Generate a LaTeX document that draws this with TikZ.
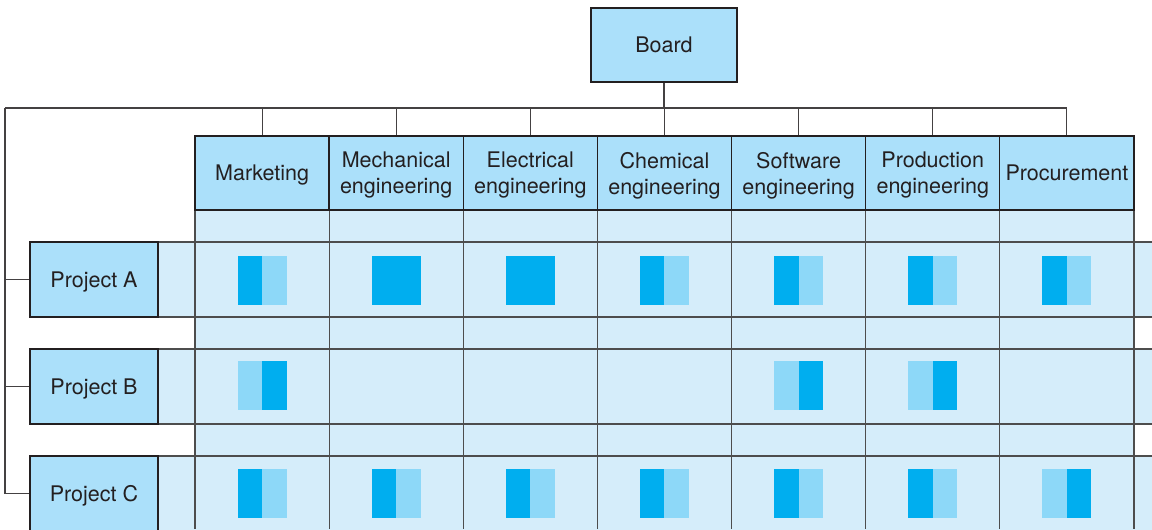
\documentclass[tikz,border=0pt]{standalone}
\usepackage{fontspec}
\setmainfont{TeX Gyre Heros}
\usepackage{xcolor}
\usepackage{tikz}
\usetikzlibrary{positioning}
\definecolor{headbg}{HTML}{ABE0FA}
\definecolor{cellbg}{HTML}{D5EDFA}
\definecolor{fullblue}{HTML}{00AEEF}
\definecolor{halfblue}{HTML}{8DD8F8}
\definecolor{gridgray}{HTML}{4D4D4D}
\definecolor{inkgray}{HTML}{231F20}
\newcommand{\cellmark}[4]{%
  \fill[#3] (#1-24.5,#2-24.5) rectangle (#1,#2+24.5);
  \fill[#4] (#1,#2-24.5) rectangle (#1+24.5,#2+24.5);}

\begin{document}
\begin{tikzpicture}[x=0.025cm, y=-0.025cm,
    box/.style={rectangle, draw=inkgray, line width=0.9pt, fill=headbg, align=center, text=inkgray,
      inner sep=0pt, text depth=0pt, font=\fontsize{15.3}{18.5}\selectfont},
    headbox/.style={box, minimum width=3.354cm, minimum height=1.85cm},
    projbox/.style={box, minimum width=3.2cm, minimum height=1.875cm},
    grid/.style={gridgray, line width=0.8pt},
    conn/.style={inkgray!85, line width=0.8pt}
]
\useasboundingbox (0,0) rectangle (1152,529);

% light cell areas
\fill[cellbg] (195,210) rectangle (1134,529);
\foreach \y in {242,349,456}
  \fill[cellbg] (158,\y) rectangle (1152,\y+75);

% grid lines
\foreach \y in {242,317,349,424,456}
  \draw[grid] (158,\y) -- (1152,\y);
\draw[grid] (195,210) -- (1134,210);
\foreach \k in {0,...,7}
  \draw[grid] (195+134.14*\k,136) -- (195+134.14*\k,529);

% functional departments
\foreach \n/\t [count=\i from 0] in {mkt/Marketing, mech/{Mechanical\\engineering},
    elec/{Electrical\\engineering}, chem/{Chemical\\engineering}, soft/{Software\\engineering},
    prod/{Production\\engineering}, proc/Procurement}
  \node[headbox] (\n) at (262.07+134.14*\i,173) {\t};

\node[box, minimum width=3.65cm, minimum height=1.85cm] (board) at (664,45) {Board};

% projects
\node[projbox] (proja) at (94,279.5) {Project A};
\node[projbox] (projb) at (94,386.5) {Project B};
\node[projbox] (projc) at (94,493.5) {Project C};

% connectors
\coordinate (busl) at (5,108);
\draw[conn] (board.south) -- (board.south |- busl);
\draw[conn] (busl) -- (proc.north |- busl);
\foreach \n in {mkt,mech,elec,chem,soft,prod,proc}
  \draw[conn] (\n.north |- busl) -- (\n.north);
\draw[conn] (busl) |- (projc.west);
\draw[conn] (busl |- proja.west) -- (proja.west);
\draw[conn] (busl |- projb.west) -- (projb.west);

% involvement marks
\foreach \a/\b [count=\i from 0] in {fullblue/halfblue, fullblue/fullblue, fullblue/fullblue,
    fullblue/halfblue, fullblue/halfblue, fullblue/halfblue, fullblue/halfblue}
  {\cellmark{262.07+134.14*\i}{280.5}{\a}{\b}}
\cellmark{262.07}{385.5}{halfblue}{fullblue}
\cellmark{798.6}{385.5}{halfblue}{fullblue}
\cellmark{932.8}{385.5}{halfblue}{fullblue}
\foreach \a/\b [count=\i from 0] in {fullblue/halfblue, fullblue/halfblue, fullblue/halfblue,
    fullblue/halfblue, fullblue/halfblue, fullblue/halfblue, halfblue/fullblue}
  {\cellmark{262.07+134.14*\i}{493}{\a}{\b}}

\end{tikzpicture}
\end{document}
